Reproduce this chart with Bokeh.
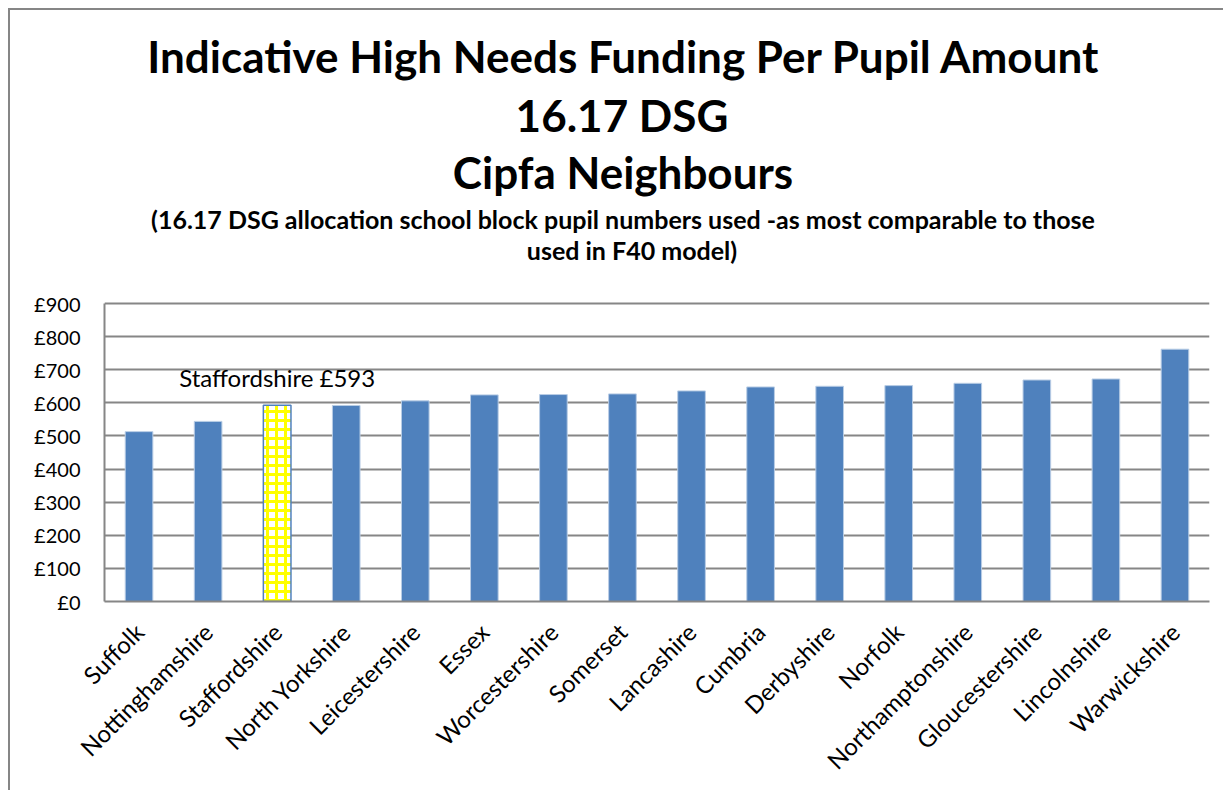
import math
from bokeh.plotting import figure
from bokeh.models import Label, FixedTicker, CustomJSTickFormatter
from bokeh.embed import file_html
from bokeh.resources import INLINE

categories = ["Suffolk", "Nottinghamshire", "Staffordshire", "North Yorkshire",
              "Leicestershire", "Essex", "Worcestershire", "Somerset", "Lancashire",
              "Cumbria", "Derbyshire", "Norfolk", "Northamptonshire",
              "Gloucestershire", "Lincolnshire", "Warwickshire"]
amounts = [513, 544, 593, 592, 606, 624, 625, 627, 636, 648, 650, 652, 659, 669, 672, 762]
highlight = "Staffordshire"
y_ticks = [0, 100, 200, 300, 400, 500, 600, 700, 800, 900]

title_lines = ["Indicative High Needs Funding Per Pupil Amount", "16.17 DSG", "Cipfa Neighbours"]
subtitle_lines = ["(16.17 DSG allocation school block pupil numbers used -as most comparable to those",
                  "used in F40 model)"]

FONT = "Lato"
W, H = 1215, 782
AXIS_TOP = y_ticks[-1]
PLOT_H = 298            # pixel height of the 0..900 value band
FRAME_H = 591           # frame extends upward to hold the titles
y_end = AXIS_TOP * FRAME_H / PLOT_H

p = figure(x_range=categories, y_range=(0, y_end), width=W, height=H,
           output_backend="svg", toolbar_location=None,
           min_border_left=94, min_border_right=W - 94 - 1105,
           min_border_top=0, min_border_bottom=H - FRAME_H)
p.styles = {"margin-left": "8px", "margin-top": "8px",
            "border-left": "2px solid #868686", "border-top": "2px solid #868686"}

others = [c for c in categories if c != highlight]
other_vals = [v for c, v in zip(categories, amounts) if c != highlight]
hv = amounts[categories.index(highlight)]

p.vbar(x=others, top=other_vals, width=0.4, fill_color="#4F81BD", line_color="#B9CDE5", line_width=1)
p.vbar(x=[highlight], top=[hv], width=0.4, fill_color="white", hatch_pattern="+",
       hatch_color="#FFFF00", hatch_scale=9, hatch_weight=3, line_color="#4F81BD", line_width=1.5)

p.outline_line_color = None
p.background_fill_color = "white"
p.border_fill_color = "white"

p.xgrid.grid_line_color = None
p.ygrid.grid_line_color = "#868686"
p.ygrid.grid_line_width = 2
p.yaxis.ticker = FixedTicker(ticks=y_ticks)
p.yaxis.bounds = (0, AXIS_TOP)
p.yaxis.formatter = CustomJSTickFormatter(code="return '\u00a3' + tick.toFixed(0);")
p.yaxis.axis_line_color = "#868686"
p.yaxis.axis_line_width = 2
p.xaxis.axis_line_color = "#868686"
p.xaxis.axis_line_width = 2
p.yaxis.major_tick_line_color = None
p.yaxis.minor_tick_line_color = None
p.xaxis.major_tick_line_color = None
p.xaxis.minor_tick_line_color = None
p.yaxis.major_label_text_font = FONT
p.yaxis.major_label_text_font_size = "20px"
p.yaxis.major_label_text_color = "black"
p.yaxis.major_label_standoff = 18
p.xaxis.major_label_text_font = FONT
p.xaxis.major_label_text_font_size = "24px"
p.xaxis.major_label_text_color = "black"
p.xaxis.major_label_orientation = math.pi / 4
p.xaxis.major_label_standoff = 20

p.add_layout(Label(x=categories.index(highlight) + 0.5, y=hv + 85,
                   text=f"{highlight} \u00a3{hv}", text_font=FONT,
                   text_font_size="24px", text_align="center", text_baseline="middle",
                   text_color="black"))

cx = len(categories) / 2
for t, off, dx in zip(title_lines, [248, 189, 132], [-33, -35, -34]):
    p.add_layout(Label(x=cx, y=AXIS_TOP, x_offset=dx, y_offset=off, text=t,
                       text_font=FONT, text_font_style="bold", text_font_size="44px",
                       text_align="center", text_baseline="alphabetic", text_color="black"))
for t, off, dx in zip(subtitle_lines, [85, 54], [-34, -25]):
    p.add_layout(Label(x=cx, y=AXIS_TOP, x_offset=dx, y_offset=off, text=t,
                       text_font=FONT, text_font_style="bold", text_font_size="25px",
                       text_align="center", text_baseline="alphabetic", text_color="black"))

open("out.html", "w").write(file_html(p, INLINE))
